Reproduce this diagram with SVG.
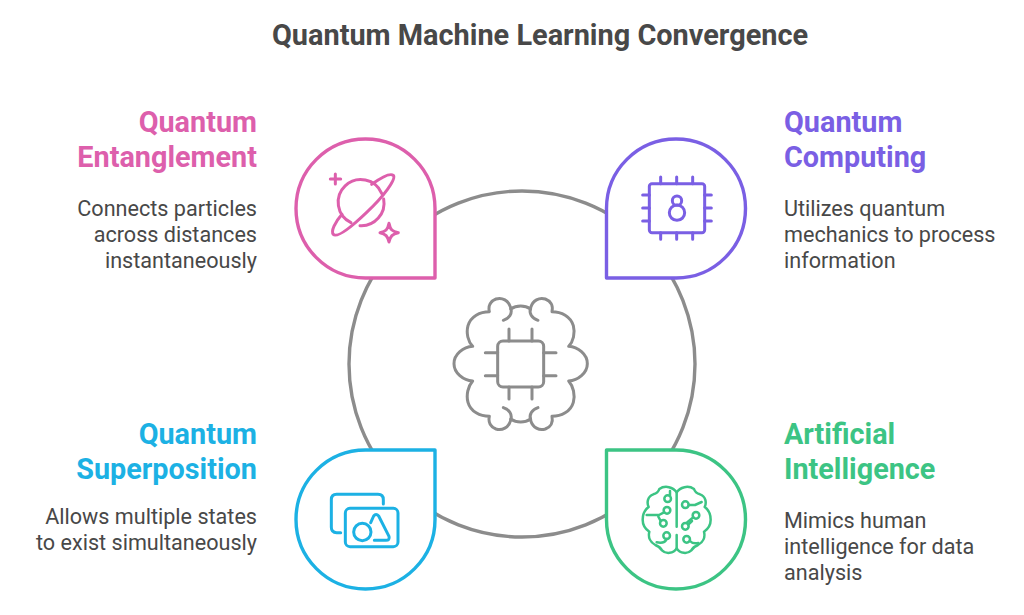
<svg xmlns="http://www.w3.org/2000/svg" width="1024" height="615" viewBox="0 0 1024 615">
<style>
text{font-family:Roboto,"Liberation Sans",sans-serif}
.t{font-size:28.9px;font-weight:700;fill:#484848}
.h{font-size:28.8px;font-weight:700}
.b{font-size:21.6px;fill:#484848}
.e{text-anchor:end}
.s{fill:#fff;stroke-width:3.4;stroke-linejoin:round}
.i{fill:none;stroke-width:9;stroke-linecap:round;stroke-linejoin:round}
.pink{stroke:#dd5fac}.pur{stroke:#7a5fe4}.blu{stroke:#1cb1e4}.grn{stroke:#3cc484}.gry{stroke:#8c8c8c}
</style>
<rect width="1024" height="615" fill="#fff"/>
<text class="t" x="540" y="44.600" text-anchor="middle">Quantum Machine Learning Convergence</text>
<g id="connectors"><circle cx="522" cy="364" r="173" fill="none" stroke="#8c8c8c" stroke-width="3.4"/></g>
<g id="center">
<g transform="translate(440 285) scale(.33333)">
<g class="i gry">
<rect x="173" y="168" width="138" height="138" rx="16"/>
<path d="M207 132V168M276 132V168M207 306V342M276 306V342M136 203H173M136 272H173M311 203H348M311 272H348"/>
<path d="M190 106C208 100 218 86 212 68C206 46 186 36 168 42C152 48 144 62 148 80C120 80 92 94 84 122C78 144 84 170 98 184C70 186 42 208 42 236C42 264 70 286 98 288C84 304 78 330 84 352C92 380 120 394 148 394C144 412 152 426 168 432C186 438 206 428 212 406C218 388 208 374 190 368"/>
<path d="M294 106C276 100 266 86 272 68C278 46 298 36 316 42C332 48 340 62 336 80C364 80 392 94 400 122C406 144 400 170 386 184C414 186 442 208 442 236C442 264 414 286 386 288C400 304 406 330 400 352C392 380 364 394 336 394C340 412 332 426 316 432C298 438 278 428 272 406C266 388 276 374 294 368"/>
<path d="M212 72C230 60 254 60 272 72M212 402C230 414 254 414 272 402"/>
</g></g>
</g>
<g id="quantum-entanglement">
<path class="s pink" d="M435 278H365.500A69.500 69.500 0 1 1 435 208.500Z"/>
<g transform="translate(280 125) scale(.33333)"><g class="i pink">
<path d="M305 205A68 68 0 1 0 213 293M240 302A68 68 0 0 0 311 222"/>
<path d="M275 178C300 160 330 143 340 151C350 162 310 215 260 262C215 305 172 340 160 328C152 318 165 292 186 268"/>
<path d="M166 147V177M151 162H182"/>
<path d="M327 295C331 315 337 319 355 323C337 327 331 333 327 351C323 333 317 327 300 323C317 319 323 315 327 295Z"/>
</g></g>
<text class="h e" x="257" y="132" fill="#dd5fac">Quantum</text>
<text class="h e" x="257" y="167" fill="#dd5fac">Entanglement</text>
<text class="b e" x="257" y="216">Connects particles</text>
<text class="b e" x="257" y="242">across distances</text>
<text class="b e" x="257" y="268">instantaneously</text>
</g>
<g id="quantum-computing">
<path class="s pur" d="M606.500 278H676A69.500 69.500 0 1 0 606.500 208.500Z"/>
<g transform="translate(590 125) scale(.33333)"><g class="i pur">
<rect x="178" y="176" width="166" height="147" rx="8"/>
<path d="M212 156V176M260 156V176M308 156V176M212 323V343M260 323V343M308 323V343M158 210H178M158 249H178M158 288H178M344 210H364M344 249H364M344 288H364"/>
<circle cx="261" cy="227" r="14"/><circle cx="261" cy="263" r="23"/>
</g></g>
<text class="h" x="784" y="132" fill="#7a5fe4">Quantum</text>
<text class="h" x="784" y="167" fill="#7a5fe4">Computing</text>
<text class="b" x="784" y="216">Utilizes quantum</text>
<text class="b" x="784" y="242">mechanics to process</text>
<text class="b" x="784" y="268">information</text>
</g>
<g id="quantum-superposition">
<path class="s blu" d="M435 450H365.500A69.500 69.500 0 1 0 435 519.500Z"/>
<g transform="translate(280 435) scale(.33333)"><g class="i blu">
<path d="M182 293H170Q154 293 154 277V194Q154 178 170 178H294Q310 178 310 194V207"/>
<rect x="196" y="220" width="158" height="115" rx="14"/>
<circle cx="247" cy="291" r="26"/>
<path d="M272 263L281 243Q288 234 296 243L327 304Q330 316 318 316H283"/>
</g></g>
<text class="h e" x="257" y="444" fill="#1cb1e4">Quantum</text>
<text class="h e" x="257" y="479" fill="#1cb1e4">Superposition</text>
<text class="b e" x="257" y="524">Allows multiple states</text>
<text class="b e" x="257" y="550">to exist simultaneously</text>
</g>
<g id="artificial-intelligence">
<path class="s grn" d="M606.500 450H676A69.500 69.500 0 1 1 606.500 519.500Z"/>
<g transform="translate(590 435) scale(.33333)"><g class="i grn" style="stroke-width:7.500">
<path d="M260 172C250 156 225 150 208 162C205 172 198 176 190 178C172 184 170 204 176 216C162 226 158 240 158 254C158 270 166 282 178 290C174 306 180 322 196 330C206 334 212 338 216 346C228 358 250 356 260 340C270 356 292 358 304 346C308 338 314 334 324 330C340 322 346 306 342 290C354 282 362 270 362 254C362 240 358 226 344 216C350 204 348 184 330 178C322 176 315 172 312 162C295 150 270 156 260 172Z"/>
<path d="M260 172V275M260 300V340"/>
<circle cx="233" cy="191" r="10"/><path d="M240 168V182"/>
<circle cx="231" cy="226" r="10"/><path d="M222 232L207 240H170"/>
<circle cx="220" cy="265" r="10"/><path d="M212 258L205 245"/>
<circle cx="230" cy="302" r="10"/><path d="M230 312C226 322 215 325 200 322"/>
<circle cx="286" cy="209" r="10"/><path d="M296 210H315L335 201"/>
<circle cx="318" cy="241" r="10"/><path d="M310 247L292 262"/>
<circle cx="286" cy="274" r="10"/><path d="M295 269L306 258"/>
<circle cx="290" cy="313" r="10"/><path d="M300 318C305 324 315 326 325 324"/>
</g></g>
<text class="h" x="784" y="444" fill="#3cc484">Artificial</text>
<text class="h" x="784" y="479" fill="#3cc484">Intelligence</text>
<text class="b" x="784" y="528">Mimics human</text>
<text class="b" x="784" y="554">intelligence for data</text>
<text class="b" x="784" y="580">analysis</text>
</g>
</svg>
